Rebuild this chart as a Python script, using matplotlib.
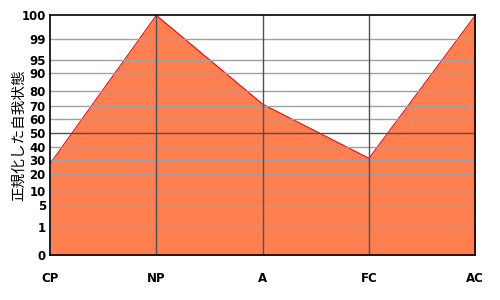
import matplotlib
matplotlib.use("Agg")
import matplotlib.pyplot as plt
import numpy as np

plt.rcParams['font.family'] = ['Noto Sans CJK JP', 'DejaVu Sans']

categories = ["CP", "NP", "A", "FC", "AC"]
scores = [27, 100, 71, 31, 100]
y_ticks = [0, 1, 5, 10, 20, 30, 40, 50, 60, 70, 80, 90, 95, 99, 100]
# vertical position of each tick on the chart's non-linear scale (0..240)
tick_pos = [0, 28.7, 50.7, 64.7, 81.7, 95.7, 108.7, 122.7, 136, 149.7,
            164, 182, 195.7, 216.7, 240]


def _fwd(v):
    return np.interp(v, y_ticks, tick_pos)


def _inv(p):
    return np.interp(p, tick_pos, y_ticks)


fig = plt.figure(figsize=(5, 3), dpi=100)
ax = fig.add_axes([0.1, 0.149, 0.8506, 0.80])
ax.set_yscale("function", functions=(_fwd, _inv))

x = np.arange(len(categories))
ax.fill_between(x, 0, scores, color="#FF7F50", zorder=1, linewidth=0)
ax.plot(x, scores, color="#FF0000", linewidth=0.8, zorder=2)

ax.set_xlim(0, len(categories) - 1)
ax.set_ylim(0, 100)

for v in y_ticks[1:-1]:
    ax.axhline(v, color="#505050" if v == 50 else "#A0A0A0", linewidth=1, zorder=3)
for i in x[1:-1]:
    ax.axvline(i, color="#505050", linewidth=1, zorder=3)

ax.set_yticks(y_ticks)
ax.set_yticklabels([str(v) for v in y_ticks], family="DejaVu Sans",
                   fontsize=8.5, fontweight="bold")
ax.set_xticks(x)
ax.set_xticklabels(categories, family="DejaVu Sans", fontsize=8.5, fontweight="bold")
ax.tick_params(axis="both", length=0)
ax.tick_params(axis="x", pad=12)
ax.tick_params(axis="y", pad=3)

for s in ax.spines.values():
    s.set_color("black")
    s.set_linewidth(1.2)
    s.set_zorder(4)

ax.set_ylabel("正規化した自我状態", fontsize=10.5)
ax.yaxis.set_label_coords(-0.057, 0.5)

fig.savefig("out.png", dpi=100)
